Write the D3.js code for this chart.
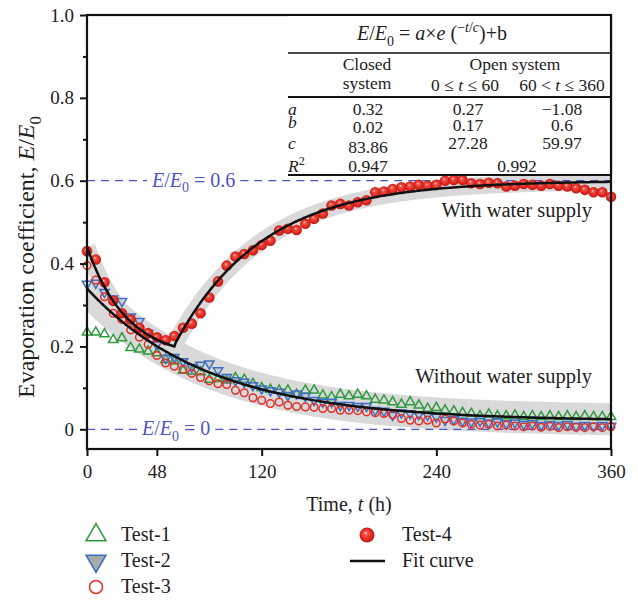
<!DOCTYPE html>
<html><head><meta charset="utf-8">
<script src="https://cdn.jsdelivr.net/npm/d3@7"></script>
<style>
body{margin:0;background:#fff;}
text{font-family:"Liberation Serif","Times New Roman",serif;fill:#222;}
</style></head><body>
<svg id="chart" width="638" height="603"></svg>
<script>
// ---------- data ----------
const times = [0,6,12,18,24,30,36,42,48,54,60,66,72,78,84,90,96,102,108,114,120,126,132,138,144,150,156,162,168,174,180,186,192,198,204,210,216,222,228,234,240,246,252,258,264,270,276,282,288,294,300,306,312,318,324,330,336,342,348,354,360];
const test1 = [0.234,0.234,0.230,0.216,0.220,0.197,0.193,0.188,0.184,0.168,0.164,0.142,0.140,0.138,0.120,0.122,0.118,0.124,0.120,0.110,0.100,0.096,0.094,0.094,0.084,0.094,0.094,0.082,0.078,0.084,0.080,0.084,0.080,0.072,0.070,0.066,0.060,0.066,0.058,0.050,0.052,0.046,0.044,0.040,0.038,0.032,0.036,0.032,0.032,0.034,0.030,0.032,0.030,0.032,0.030,0.032,0.030,0.032,0.030,0.030,0.030];
const test2 = [0.351,0.353,0.331,0.315,0.309,0.272,0.261,0.232,0.205,0.172,0.174,0.164,0.150,0.155,0.158,0.142,0.126,0.118,0.114,0.106,0.098,0.094,0.090,0.082,0.086,0.080,0.070,0.066,0.066,0.058,0.058,0.056,0.056,0.046,0.044,0.034,0.040,0.038,0.036,0.034,0.030,0.022,0.024,0.020,0.018,0.020,0.016,0.018,0.014,0.016,0.012,0.014,0.010,0.012,0.010,0.012,0.008,0.010,0.008,0.010,0.008];
const test3 = [0.395,0.360,0.320,0.280,0.265,0.240,0.222,0.205,0.178,0.160,0.152,0.145,0.135,0.125,0.117,0.110,0.108,0.094,0.088,0.076,0.070,0.062,0.066,0.058,0.055,0.054,0.053,0.050,0.050,0.046,0.046,0.045,0.042,0.040,0.038,0.035,0.026,0.022,0.020,0.022,0.015,0.025,0.020,0.015,0.012,0.010,0.012,0.008,0.010,0.008,0.006,0.008,0.005,0.007,0.004,0.006,0.005,0.004,0.006,0.004,0.006];
const test4 = [0.430,0.410,0.355,0.310,0.280,0.265,0.245,0.232,0.222,0.215,0.225,0.245,0.255,0.280,0.318,0.357,0.395,0.417,0.423,0.432,0.445,0.455,0.480,0.484,0.481,0.496,0.508,0.521,0.540,0.544,0.540,0.548,0.553,0.572,0.574,0.580,0.584,0.586,0.590,0.588,0.590,0.600,0.602,0.602,0.594,0.592,0.595,0.594,0.586,0.588,0.592,0.590,0.588,0.592,0.588,0.586,0.582,0.578,0.572,0.572,0.561];

// fit parameters (from the table): closed, open 0-60, open 60-360
const fitA = [0.32, 0.27, -1.08];
const fitB = [0.02, 0.17, 0.6];
const fitC = [83.86, 27.28, 59.97];
const fitAText = ["0.32","0.27","\u22121.08"];
const fitBText = ["0.02","0.17","0.6"];
const fitCText = ["83.86","27.28","59.97"];
const r2Text = ["0.947","0.992"];

const xTicks = [0,48,120,240,360];
const yTicks = [0,0.2,0.4,0.6,0.8,1.0];
const yMinor = [0.1,0.3,0.5,0.7,0.9];
const refLevels = [0.6, 0];
const refLabelVals = ["0.6","0"];

const legendNames = ["Test-1","Test-2","Test-3","Test-4","Fit curve"];

// ---------- layout ----------
const svg = d3.select("#chart");
const L=87, R=611, T=15, B=449;
const x = d3.scaleLinear().domain([0,360]).range([L,R]);
const y = d3.scaleLinear().domain([-0.05,1]).range([450,15]);

const green="#2f9a3f", blue="#3d6fc2", red="#e3302a", refBlue="#4c55c6";

const defs = svg.append("defs");
const grad = defs.append("radialGradient").attr("id","sph").attr("cx","50%").attr("cy","50%").attr("r","55%").attr("fx","40%").attr("fy","35%");
grad.append("stop").attr("offset","0%").attr("stop-color","#fde0da");
grad.append("stop").attr("offset","22%").attr("stop-color","#f2554c");
grad.append("stop").attr("offset","70%").attr("stop-color","#dc241c");
grad.append("stop").attr("offset","100%").attr("stop-color","#b0160f");
defs.append("clipPath").attr("id","clip").append("rect").attr("x",L).attr("y",T).attr("width",R-L).attr("height",B-T);

// rich text helper
function rich(g, segs, size){
  const t = g.append("text").attr("font-size",size);
  let shift = 0;
  segs.forEach(s=>{
    const sp = t.append("tspan").text(s.t);
    let target = 0, fs = size;
    if (s.sub){ target = size*0.28; fs = size*0.7; }
    if (s.sup){ target = -size*0.38; fs = size*0.7; }
    sp.attr("dy", target - shift); shift = target;
    if (s.sub||s.sup) sp.attr("font-size", fs);
    if (s.i) sp.attr("font-style","italic");
  });
  return t;
}

// ---------- fit curves & bands ----------
function fitVal(k,t){ return fitA[k]*Math.exp(-t/fitC[k])+fitB[k]; }
const tFine = d3.range(0,360.5,1);
const closedPts = tFine.map(t=>[t, fitVal(0,t)]);
const openPts = tFine.map(t=>[t, t<=60 ? fitVal(1,t) : fitVal(2,t)]);
const line = d3.line().x(d=>x(d[0])).y(d=>y(d[1]));

const bands = svg.append("g").attr("clip-path","url(#clip)");
bands.append("path").attr("d",line(closedPts)).attr("fill","none").attr("stroke","#d9d9d9").attr("stroke-width",32);
bands.append("path").attr("d",line(openPts)).attr("fill","none").attr("stroke","#d9d9d9").attr("stroke-width",17);

// ---------- reference dashed lines ----------
refLevels.forEach((lv,i)=>{
  const g = svg.append("g");
  const startX = i===0 ? 152 : 142;
  const t = rich(g, [{t:"E",i:true},{t:"/"},{t:"E",i:true},{t:"0",sub:true},{t:" = "+refLabelVals[i]}], 20);
  t.attr("x",startX).attr("y", y(lv)+6).selectAll("tspan").style("fill",refBlue);
  const bb = t.node().getBBox();
  g.append("line").attr("x1",L).attr("x2",bb.x-4).attr("y1",y(lv)).attr("y2",y(lv))
    .attr("stroke",refBlue).attr("stroke-width",1.3).attr("stroke-dasharray","8,6");
  g.append("line").attr("x1",bb.x+bb.width+5).attr("x2",R).attr("y1",y(lv)).attr("y2",y(lv))
    .attr("stroke",refBlue).attr("stroke-width",1.3).attr("stroke-dasharray","8,6");
});

// ---------- markers ----------
const triUp = d3.symbol().type(d3.symbolTriangle);
const pts = svg.append("g");
pts.selectAll(".t1").data(times).join("path").attr("class","t1")
  .attr("d", triUp.size(38)()).attr("transform",(t,i)=>`translate(${x(t)},${y(test1[i])})`)
  .attr("fill","none").attr("stroke",green).attr("stroke-width",1.5);
pts.selectAll(".t2").data(times).join("path").attr("class","t2")
  .attr("d", triUp.size(38)()).attr("transform",(t,i)=>`translate(${x(t)},${y(test2[i])}) rotate(180)`)
  .attr("fill","rgba(170,170,175,0.25)").attr("stroke",blue).attr("stroke-width",1.5);
pts.selectAll(".t3").data(times).join("circle").attr("class","t3")
  .attr("cx",t=>x(t)).attr("cy",(t,i)=>y(test3[i])).attr("r",3.8)
  .attr("fill","none").attr("stroke",red).attr("stroke-width",1.5);
pts.selectAll(".t4").data(times).join("circle").attr("class","t4")
  .attr("cx",t=>x(t)).attr("cy",(t,i)=>y(test4[i])).attr("r",5.3)
  .attr("fill","url(#sph)");

// fit curves on top
svg.append("path").attr("d",line(closedPts)).attr("fill","none").attr("stroke","#111").attr("stroke-width",2.5);
svg.append("path").attr("d",line(openPts)).attr("fill","none").attr("stroke","#111").attr("stroke-width",2.5);

// ---------- axes ----------
const yAx = svg.append("g").attr("transform",`translate(${L},0)`)
  .call(d3.axisLeft(y).tickValues(yTicks).tickSize(7).tickPadding(6).tickFormat(d=>d===0?"0":d3.format(".1f")(d)));
yAx.select(".domain").remove();
yAx.selectAll("line").attr("stroke","#111").attr("stroke-width",2);
yAx.selectAll("text").attr("font-size",19).attr("font-family",null).style("fill","#222");
const yAx2 = svg.append("g").attr("transform",`translate(${L},0)`)
  .call(d3.axisLeft(y).tickValues(yMinor).tickSize(4).tickFormat(""));
yAx2.select(".domain").remove();
yAx2.selectAll("line").attr("stroke","#111").attr("stroke-width",2);

const xAx = svg.append("g").attr("transform",`translate(0,${B})`)
  .call(d3.axisBottom(x).tickValues(xTicks).tickSize(7).tickPadding(9).tickFormat(d3.format("d")));
xAx.select(".domain").remove();
xAx.selectAll("line").attr("stroke","#111").attr("stroke-width",2);
xAx.selectAll("text").attr("font-size",19).attr("font-family",null).style("fill","#222");

// frame
svg.append("rect").attr("x",L).attr("y",T).attr("width",R-L).attr("height",B-T)
  .attr("fill","none").attr("stroke","#111").attr("stroke-width",2.2);

// axis titles
const xt = rich(svg.append("g"), [{t:"Time, "},{t:"t",i:true},{t:" (h)"}], 20);
xt.attr("x",(L+R)/2).attr("y",511).attr("text-anchor","middle");
const ytg = svg.append("g").attr("transform","translate(34,257) rotate(-90)");
rich(ytg, [{t:"Evaporation coefficient, "},{t:"E",i:true},{t:"/"},{t:"E",i:true},{t:"0",sub:true}], 24)
  .attr("x",0).attr("y",0).attr("text-anchor","middle");

// annotations
svg.append("text").attr("x",592).attr("y",217).attr("text-anchor","end").attr("font-size",20.5).text("With water supply");
svg.append("text").attr("x",592).attr("y",383).attr("text-anchor","end").attr("font-size",20.5).text("Without water supply");

// ---------- table ----------
const tb = svg.append("g");
const TL = 288;
tb.append("rect").attr("x",TL).attr("y",T+1).attr("width",R-TL-1).attr("height",175-T-1).attr("fill","#fff");
[[53,1.3],[97,2],[175,2.2]].forEach(([yy,w])=>{
  tb.append("line").attr("x1",TL).attr("x2",R).attr("y1",yy).attr("y2",yy).attr("stroke","#111").attr("stroke-width",w);
});
rich(tb,[{t:"E",i:true},{t:"/"},{t:"E",i:true},{t:"0",sub:true},{t:" = "},{t:"a",i:true},{t:"\u00d7"},{t:"e",i:true},{t:" ("},
  {t:"\u2212",sup:true},{t:"t",i:true,sup:true},{t:"/",sup:true},{t:"c",i:true,sup:true},{t:")+b"}],20)
  .attr("x",432).attr("y",40).attr("text-anchor","middle");
const fs=17.5;
function ctext(xx,yy,segs){ return rich(tb,segs,fs).attr("x",xx).attr("y",yy).attr("text-anchor","middle"); }
ctext(367,70,[{t:"Closed"}]);
ctext(367,89,[{t:"system"}]);
ctext(515,70,[{t:"Open system"}]);
ctext(465,91,[{t:"0 \u2264 "},{t:"t",i:true},{t:" \u2264 60"}]);
ctext(562,91,[{t:"60 < "},{t:"t",i:true},{t:" \u2264 360"}]);
const colX = [368,468,562];
const rowY = [115,131,149,172];
rich(tb,[{t:"a",i:true}],fs).attr("x",TL).attr("y",rowY[0]);
rich(tb,[{t:"b",i:true}],fs).attr("x",TL).attr("y",rowY[1]-3);
rich(tb,[{t:"c",i:true}],fs).attr("x",TL).attr("y",rowY[2]);
rich(tb,[{t:"R",i:true},{t:"2",sup:true}],fs).attr("x",TL).attr("y",rowY[3]);
const offs = [[0,0,0],[2,0,0],[4,0,0]];
colX.forEach((cx,k)=>{
  ctext(cx,rowY[0],[{t:fitAText[k]}]);
  ctext(cx,rowY[1]+offs[1][k],[{t:fitBText[k]}]);
  ctext(cx,rowY[2]+offs[2][k],[{t:fitCText[k]}]);
});
ctext(368,rowY[3],[{t:r2Text[0]}]);
ctext(517,rowY[3],[{t:r2Text[1]}]);
tb.append("line").attr("x1",R).attr("x2",R).attr("y1",T).attr("y2",175).attr("stroke","#111").attr("stroke-width",2.2);

// ---------- legend ----------
const lg = svg.append("g");
const rowB = [541,567,593];
const mk = [
  {col:0,row:0,type:"t1"},{col:0,row:1,type:"t2"},{col:0,row:2,type:"t3"},
  {col:1,row:0,type:"t4"},{col:1,row:1,type:"fit"}];
mk.forEach((m,i)=>{
  const mx = m.col===0 ? 96 : 367, tx = m.col===0 ? 121 : 402;
  const cy = rowB[m.row]-6;
  if (m.type==="t1") lg.append("path").attr("d",triUp.size(170)()).attr("transform",`translate(${mx},${cy})`).attr("fill","none").attr("stroke",green).attr("stroke-width",1.6);
  if (m.type==="t2") lg.append("path").attr("d",triUp.size(170)()).attr("transform",`translate(${mx},${cy}) rotate(180)`).attr("fill","#a9a9a9").attr("stroke",blue).attr("stroke-width",1.6);
  if (m.type==="t3") lg.append("circle").attr("cx",mx).attr("cy",cy).attr("r",6.5).attr("fill","none").attr("stroke",red).attr("stroke-width",1.5);
  if (m.type==="t4") lg.append("circle").attr("cx",mx).attr("cy",cy).attr("r",7.5).attr("fill","url(#sph)");
  if (m.type==="fit") lg.append("line").attr("x1",350).attr("x2",385).attr("y1",cy).attr("y2",cy).attr("stroke","#111").attr("stroke-width",2.5);
  lg.append("text").attr("x",tx).attr("y",rowB[m.row]).attr("font-size",20).text(legendNames[i]);
});
</script>
</body></html>
